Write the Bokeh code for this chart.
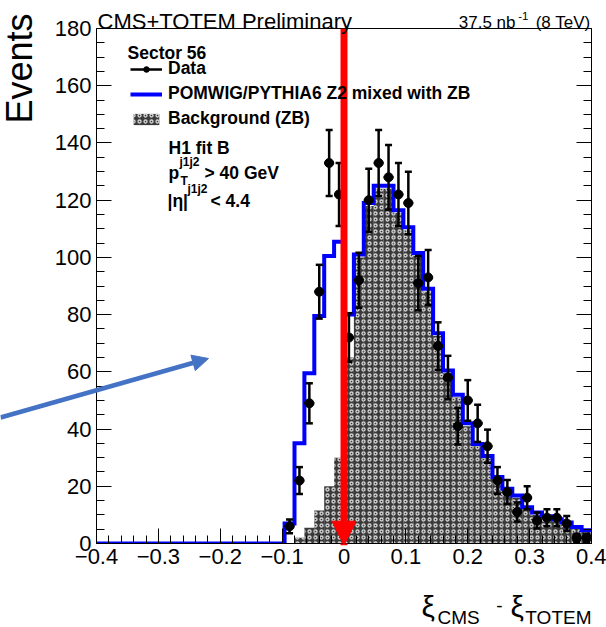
from math import pi
from bokeh.plotting import figure
from bokeh.layouts import column
from bokeh.models import (Range1d, FixedTicker, LinearAxis, Label, Arrow, NormalHead,
                          Whisker, TeeHead, ColumnDataSource, Legend, LegendItem)
from bokeh.embed import file_html
from bokeh.resources import INLINE

# ---------------- data ----------------
x_low, x_high = -0.4, 0.4
n_bins = 50
bin_width = 0.016

pomwig_mixed_zb = [0, 0, 0, 0, 0, 0, 0, 0, 0, 0,
                   0, 0, 0, 0, 0, 0, 0, 0, 0, 7,
                   35, 59.5, 79.5, 100.5, 105.5, 80, 101, 119, 125, 125,
                   116.5, 110.5, 101.5, 89, 73.5, 60.5, 52, 42, 34.8, 30.6,
                   23.2, 19.1, 16.8, 12.7, 10.8, 9.5, 8.5, 7.3, 5.8, 4.6]

background_zb = [0, 0, 0, 0, 0, 0, 0, 0, 0, 0,
                 0, 0, 0, 0, 0, 0, 0, 0, 0, 0,
                 2, 5.5, 11.5, 20, 30, 65, 100, 118, 124, 124,
                 115.5, 109.5, 100.5, 88, 72.5, 59.5, 51, 41, 34, 29.8,
                 22.4, 18.3, 16, 12, 10, 8.8, 7.8, 6.6, 5.1, 4]

data_first_bin = 19
data_events = [6, 22, 49, 88, 133, 122, 72, 92, 120, 133,
               128, 122, 119, 91, 93, 69, 58, 41, 50, 42,
               34, 22, 18, 11, 16, 8, 9, 9, 7, 2, 2]
data_errors = [2.4, 4.7, 7.0, 9.4, 11.5, 11.0, 8.5, 9.6, 11.0, 11.5,
               11.3, 11.0, 10.9, 9.5, 9.6, 8.3, 7.6, 6.4, 7.1, 6.5,
               5.8, 4.7, 4.2, 3.3, 4.0, 2.8, 3.0, 3.0, 2.6, 1.4, 1.4]

x_tick_values = [-0.4, -0.3, -0.2, -0.1, 0.0, 0.1, 0.2, 0.3, 0.4]
x_tick_labels = ["\u22120.4", "\u22120.3", "\u22120.2", "\u22120.1", "0", "0.1", "0.2", "0.3", "0.4"]
y_tick_values = [0, 20, 40, 60, 80, 100, 120, 140, 160, 180]
y_tick_labels = ["0", "20", "40", "60", "80", "100", "120", "140", "160", "180"]

# ---------------- derived geometry of the binning ----------------
left_edges = [round(x_low + i * bin_width, 6) for i in range(n_bins)]
right_edges = [round(x_low + (i + 1) * bin_width, 6) for i in range(n_bins)]
step_x = left_edges + [x_high]
step_y = pomwig_mixed_zb + [pomwig_mixed_zb[-1]]

d_idx = list(range(data_first_bin, data_first_bin + len(data_events)))
d_center = [round(left_edges[i] + bin_width / 2, 6) for i in d_idx]
d_left = [left_edges[i] for i in d_idx]
d_right = [right_edges[i] for i in d_idx]
d_low = [v - e for v, e in zip(data_events, data_errors)]
d_up = [v + e for v, e in zip(data_events, data_errors)]

# ---------------- main figure ----------------
W, H = 606, 627
ML, MR, MT, MB = 96, 15, 28, 84
FONT = "Liberation Sans"

p = figure(width=W, height=H, x_range=Range1d(x_low, x_high), y_range=Range1d(0, 180),
           output_backend="svg", toolbar_location=None,
           min_border_left=ML, min_border_right=MR, min_border_top=MT, min_border_bottom=MB)
p.frame_align = False
p.xgrid.visible = False
p.ygrid.visible = False
p.outline_line_color = "black"
p.outline_line_width = 1
p.background_fill_color = "white"
p.border_fill_color = "white"

x_minor = [round(x_low + 0.02 * i, 6) for i in range(41)]
y_minor = list(range(0, 181, 5))

xa = p.xaxis[0]
xa.ticker = FixedTicker(ticks=x_tick_values, minor_ticks=x_minor)
xa.major_label_overrides = dict(zip(x_tick_values, x_tick_labels))
ya = p.yaxis[0]
ya.ticker = FixedTicker(ticks=y_tick_values, minor_ticks=y_minor)
ya.major_label_overrides = dict(zip([float(v) for v in y_tick_values], y_tick_labels))

for ax in (xa, ya):
    ax.major_tick_in = 15
    ax.major_tick_out = 0
    ax.minor_tick_in = 8
    ax.minor_tick_out = 0
    ax.axis_line_color = "black"
    ax.major_tick_line_color = "black"
    ax.minor_tick_line_color = "black"
    ax.major_label_text_font = FONT
    ax.major_label_text_font_size = "22px"
    ax.major_label_text_color = "black"
    ax.major_label_standoff = 5

ry = LinearAxis(ticker=FixedTicker(ticks=y_tick_values, minor_ticks=y_minor),
                major_tick_in=15, major_tick_out=0, minor_tick_in=8, minor_tick_out=0,
                major_label_overrides={float(v): "" for v in y_tick_values},
                major_label_standoff=0, axis_line_color="black")
p.add_layout(ry, "right")

# histograms
bg_src = ColumnDataSource(dict(left=left_edges, right=right_edges, top=background_zb,
                               bottom=[0] * n_bins))
bg_r = p.quad(left="left", right="right", top="top", bottom="bottom", source=bg_src,
              fill_color="#3a3a3a", line_color=None,
              hatch_pattern="ring", hatch_color="#d4d4d4", hatch_scale=6, hatch_weight=1.3)

step_r = p.step(x=step_x, y=step_y, mode="after", line_color="#0000ff", line_width=4,
                line_join="miter")

dsrc = ColumnDataSource(dict(x=d_center, y=data_events, left=d_left, right=d_right,
                             lower=d_low, upper=d_up))
seg_r = p.segment(x0="left", y0="y", x1="right", y1="y", source=dsrc,
                  line_color="black", line_width=2.5)
pts_r = p.scatter(x="x", y="y", source=dsrc, size=9, fill_color="black", line_color="black")
wh = Whisker(source=dsrc, base="x", lower="lower", upper="upper", line_color="black",
             line_width=2.5, level="annotation",
             upper_head=TeeHead(size=7, line_width=2.5, line_color="black"),
             lower_head=TeeHead(size=7, line_width=2.5, line_color="black"))
p.add_layout(wh)

legend = Legend(items=[LegendItem(label="Data", renderers=[seg_r, pts_r]),
                       LegendItem(label="POMWIG/PYTHIA6 Z2 mixed with ZB", renderers=[step_r]),
                       LegendItem(label="Background (ZB)", renderers=[bg_r])],
                location=(130 - ML, (H - MB) - 129), orientation="vertical",
                label_text_font=FONT, label_text_font_size="17.5px",
                label_text_font_style="bold", label_text_color="black",
                glyph_width=32, glyph_height=14, label_standoff=6, label_height=20,
                spacing=4, padding=0, margin=0, border_line_color=None,
                background_fill_alpha=0)
p.add_layout(legend)

p.add_layout(Arrow(x_start=0, y_start=180, x_end=0, y_end=-0.6,
                   line_color="#ff0000", line_width=7,
                   end=NormalHead(size=24, fill_color="#ff0000", line_color="#ff0000",
                                  line_width=1)))

# ---------------- transparent overlay for texts (canvas pixel coordinates) ----------------
ann = figure(width=W, height=H, x_range=Range1d(0, W), y_range=Range1d(H, 0),
             output_backend="svg", toolbar_location=None,
             x_axis_type=None, y_axis_type=None,
             min_border_left=0, min_border_right=0, min_border_top=0, min_border_bottom=0)
ann.frame_align = False
ann.xgrid.visible = False
ann.ygrid.visible = False
ann.outline_line_color = None
ann.background_fill_alpha = 0
ann.border_fill_alpha = 0
ann.margin = (-H, 0, 0, 0)


def txt(X, Y, s, size, bold=False, align="left", baseline="alphabetic", angle=0.0):
    ann.add_layout(Label(x=X, y=Y, text=s,
                         text_font=FONT, text_font_size=f"{size}px",
                         text_font_style="bold" if bold else "normal",
                         text_align=align, text_baseline=baseline, angle=angle,
                         text_color="black"))


# legend header / extra lines
txt(127, 52, "Sector 56", 17.5, bold=True)
txt(168, 147, "H1 fit B", 17.5, bold=True)
txt(168, 172, "p", 17.5, bold=True)
txt(179, 161, "j1j2", 12, bold=True)
txt(180, 180, "T", 12, bold=True)
txt(204, 172, "> 40 GeV", 17.5, bold=True)
txt(167, 200, "|\u03b7|", 17.5, bold=True)
txt(187, 188, "j1j2", 12, bold=True)
txt(210, 200, "< 4.4", 17.5, bold=True)

# top texts
txt(97, 21, "CMS+TOTEM Preliminary", 22)
txt(590, 22, "(8 TeV)", 17, align="right")
txt(528, 15, "-1", 11.5, align="right")
txt(515, 22, "37.5 nb", 17, align="right")

# axis titles
txt(19, 13, "Events", 36, align="right", baseline="middle", angle=pi / 2)
txt(421, 606, "\u03be", 30)
txt(437, 617, "CMS", 19)
txt(499, 605, "-", 19, align="center")
txt(510, 606, "\u03be", 30)
txt(591, 617, "TOTEM", 19, align="right")

ann.add_layout(Arrow(x_start=0, y_start=417, x_end=208, y_end=358,
                     line_color="#4472c4", line_width=4.5,
                     end=NormalHead(size=16, fill_color="#4472c4", line_color="#4472c4",
                                    line_width=1)))

page = column(p, ann, spacing=0)
open("out.html", "w").write(file_html(page, INLINE))
